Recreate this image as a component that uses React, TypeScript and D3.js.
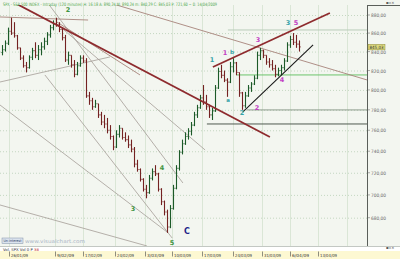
import React from "react";
import * as d3 from "d3";

// 120-minute bars of the S&P 500 index (high / low / close); each bar opens at the previous close
const barHighs = [847, 852, 866, 877, 872, 858, 844, 836, 829, 836, 844, 850, 847, 850, 855, 861, 869, 874, 877, 872, 866, 858, 840, 836, 831, 829, 836, 836, 833, 798, 792, 790, 786, 778, 775, 772, 765, 755, 760, 765, 762, 758, 755, 751, 744, 732, 724, 715, 709, 718, 724, 727, 720, 706, 695, 687, 691, 709, 727, 741, 751, 758, 762, 768, 778, 785, 795, 805, 795, 785, 782, 805, 823, 826, 820, 812, 829, 833, 829, 818, 798, 798, 805, 808, 815, 840, 844, 842, 836, 833, 831, 826, 823, 826, 833, 850, 857, 860, 858, 852];
const barLows = [836, 840, 847, 858, 855, 842, 831, 823, 818, 822, 831, 833, 831, 836, 842, 847, 855, 863, 867, 861, 852, 829, 826, 823, 813, 815, 824, 828, 792, 785, 780, 782, 772, 765, 762, 757, 751, 741, 743, 753, 751, 749, 743, 739, 725, 721, 712, 703, 697, 701, 713, 717, 703, 691, 682, 667, 671, 687, 705, 722, 737, 746, 751, 755, 764, 772, 781, 785, 780, 772, 770, 778, 801, 812, 808, 793, 807, 818, 815, 793, 780, 782, 793, 798, 805, 811, 831, 833, 826, 823, 820, 813, 814, 815, 820, 829, 844, 847, 844, 840];
const barCloses = [842, 849, 862, 860, 857, 844, 833, 825, 823, 834, 841, 836, 842, 845, 851, 858, 866, 870, 869, 864, 855, 831, 836, 826, 816, 825, 833, 830, 794, 789, 783, 786, 775, 768, 766, 760, 754, 744, 756, 762, 753, 751, 746, 742, 728, 723, 714, 705, 702, 715, 721, 719, 705, 694, 685, 672, 688, 706, 724, 739, 747, 754, 759, 765, 775, 782, 792, 788, 783, 775, 779, 802, 819, 815, 810, 808, 824, 828, 818, 797, 784, 794, 802, 806, 812, 836, 841, 836, 829, 826, 822, 816, 820, 823, 830, 847, 853, 850, 848, 845.03];
const firstOpen = 839;
const lastPrice = 845.03;

// price axis
const priceTicks = [880, 860, 840, 820, 800, 780, 760, 740, 720, 700, 680];

// date axis (positions in bar units)
const dateTickPos = [2.33, 17.67, 27, 37.67, 47.67, 56.67, 66.67, 77, 86.67, 96, 105.3];
const dateTickLabels = ["26/01/09", "9/02/09", "17/02/09", "24/02/09", "3/03/09", "10/03/09", "17/03/09", "24/03/09", "31/03/09", "6/04/09", "13/04/09"];
const extraGridPos = [115];

// drawn trend lines: [bar0, price0, bar1, price1]
const maroonLines = [
  [3.67, 894.7, 89.3, 753.5],
  [70.3, 823.7, 109.3, 882.2],
];
const wedgeLine = [80.3, 777.9, 103.7, 847.1];
const brownLines = [
  [-0.67, 877.8, 28.7, 874.4],
  [32.7, 896.9, 121.7, 810.2],
  [18.3, 872.2, 46, 815.4],
];
const greyLines = [
  [-0.67, 808.1, 36, 834.3],
  [15, 894.7, 60.3, 710.7],
  [18.3, 870.0, 67.7, 741.2],
  [14.3, 815.4, 56.7, 662.7],
  [-0.67, 784.8, 55, 667.8],
  [-0.67, 691.1, 48.3, 656.0],
];

// horizontal levels: price, starting bar, colour
const levelPrices = [863.4, 815.4, 779.9, 766.1];
const levelStarts = [75.3, 78.3, 81.7, 68.3];
const levelColors = ["#b9cdb9", "#6cc46c", "#8d9c8d", "#505a50"];

// wave counts
const waveTexts = ["2", "3", "4", "5", "C", "1", "1", "b", "a", "3", "2", "2", "4", "3", "5"];
const waveBars = [22, 43.67, 53.33, 56.67, 61.67, 70, 74.33, 76.67, 75.33, 85.33, 80, 85, 93.33, 95.33, 98];
const wavePrices = [885.2, 687.6, 724.4, 658.5, 667.8, 831.1, 838.5, 839.6, 789.9, 852.5, 776.9, 781.8, 810.2, 871.1, 871.1];
const waveKinds = ["g", "g", "g", "g", "n", "c", "m", "c", "c", "m", "c", "m", "m", "c", "m"];

const titleText = "SPX - S&P 500 INDEX - Intraday (120 minutes)  H: 16:18  A: 890,24  M: 890,24  m: 840,29  C: 845,03  P: 721,60  ~ 0: 14/04/2009";

const W = 400;
const H = 259;
const plotRight = 367;
const plotTop = 5;
const plotBottom = 246;

const fmt = (v: number) => v.toFixed(2).replace(".", ",");

export default function App() {
  const x = d3.scaleLinear().domain([0, barCloses.length - 1]).range([2, 299]);
  const y = d3.scaleLog().domain([680, 880]).range([217.7, 15]);

  const waveColor: Record<string, string> = {
    g: "#3f9440",
    c: "#36a3a8",
    m: "#c23fc4",
    n: "#1c2288",
  };

  const bars = barCloses.map((c, i) => {
    const o = i === 0 ? firstOpen : barCloses[i - 1];
    const xi = Math.round(x(i)) + 0.5;
    return {
      xi,
      hi: y(barHighs[i]),
      lo: y(barLows[i]),
      o: y(o),
      c: y(c),
      up: c >= o,
    };
  });

  const seg = (l: number[]) => ({ x1: x(l[0]), y1: y(l[1]), x2: x(l[2]), y2: y(l[3]) });
  const font = "'DejaVu Sans', 'Liberation Sans', sans-serif";
  const boxY = y(lastPrice) - 2.6;

  return (
    <svg
      width={W}
      height={H}
      viewBox={`0 0 ${W} ${H}`}
      style={{ position: "absolute", left: 0, top: 0, display: "block" }}
      fontFamily={font}
    >
      <defs>
        <clipPath id="plotClip">
          <rect x={0} y={plotTop} width={plotRight} height={plotBottom - plotTop} />
        </clipPath>
      </defs>
      <rect x={0} y={0} width={W} height={H} fill="#f3f6f0" />

      {/* grid */}
      <g clipPath="url(#plotClip)">
        {priceTicks.map((p) => (
          <line key={p} x1={0} x2={plotRight} y1={y(p) + 0.5} y2={y(p) + 0.5} stroke="#b9cfb6" strokeWidth={0.8} strokeDasharray="1,2" />
        ))}
        {dateTickPos.concat(extraGridPos).map((p) => (
          <line key={p} x1={Math.round(x(p)) + 0.5} x2={Math.round(x(p)) + 0.5} y1={plotTop} y2={plotBottom} stroke="#d3e2cf" strokeWidth={0.8} />
        ))}
      </g>

      {/* trend lines and levels */}
      <g clipPath="url(#plotClip)" fill="none">
        {levelPrices.map((p, i) => (
          <line key={i} x1={x(levelStarts[i])} x2={plotRight} y1={y(p)} y2={y(p)} stroke={levelColors[i]} strokeWidth={1} />
        ))}
        {greyLines.map((l, i) => (
          <line key={i} {...seg(l)} stroke="#a59d97" strokeWidth={0.8} />
        ))}
        {brownLines.map((l, i) => (
          <line key={i} {...seg(l)} stroke="#a7837a" strokeWidth={0.9} />
        ))}
      </g>

      {/* OHLC bars */}
      <g clipPath="url(#plotClip)">
        {bars.map((b, i) => {
          const col = b.up ? "#1c5a28" : "#742222";
          return (
            <g key={i} stroke={col} strokeWidth={1.1}>
              <line x1={b.xi} x2={b.xi} y1={b.hi} y2={b.lo} />
              <line x1={b.xi - 1} x2={b.xi} y1={b.o} y2={b.o} />
              <line x1={b.xi} x2={b.xi + 1} y1={b.c} y2={b.c} />
            </g>
          );
        })}
      </g>

      <g clipPath="url(#plotClip)" fill="none">
        {maroonLines.map((l, i) => (
          <line key={i} {...seg(l)} stroke="#8e2b2e" strokeWidth={1.8} />
        ))}
        <line {...seg(wedgeLine)} stroke="#1a1a1a" strokeWidth={1.1} />
      </g>

      {/* wave labels */}
      {waveTexts.map((t, i) => {
        const small = t === "a" || t === "b";
        const big = t === "C";
        return (
          <text
            key={i}
            x={x(waveBars[i])}
            y={y(wavePrices[i])}
            fill={waveColor[waveKinds[i]]}
            fontSize={big ? 8 : small ? 5.5 : 6.5}
            fontWeight="bold"
            textAnchor="middle"
            dominantBaseline="central"
          >
            {t}
          </text>
        );
      })}

      {/* title */}
      <text x={3} y={5.5} fontSize={4.6} fill="#4fa64a" textLength={214} lengthAdjust="spacingAndGlyphs">
        {titleText}
      </text>

      {/* price axis panel */}
      <line x1={plotRight + 0.5} x2={plotRight + 0.5} y1={plotTop} y2={plotBottom} stroke="#5a5f5a" strokeWidth={1} />
      <line x1={plotRight} x2={W} y1={plotTop + 0.5} y2={plotTop + 0.5} stroke="#5a5f5a" strokeWidth={1} />
      {priceTicks.map((p) => (
        <g key={p}>
          <line x1={plotRight + 1} x2={plotRight + 3} y1={y(p)} y2={y(p)} stroke="#777" strokeWidth={0.6} />
          <text x={plotRight + 4} y={y(p) + 0.6} fontSize={4.6} fill="#6a6a6a" dominantBaseline="central" textLength={15} lengthAdjust="spacingAndGlyphs">
            {fmt(p)}
          </text>
        </g>
      ))}
      <rect x={plotRight + 1} y={boxY} width={17} height={5.6} fill="#dcd97c" stroke="#8d8a3c" strokeWidth={0.5} />
      <text x={plotRight + 2.5} y={boxY + 2.9} fontSize={4.4} fill="#333" dominantBaseline="central" textLength={14} lengthAdjust="spacingAndGlyphs">
        {fmt(lastPrice)}
      </text>
      <text x={386} y={3.6} fontSize={3.8} fill="#555">▪▫×</text>

      {/* footer */}
      <rect x={2} y={238} width={21} height={5.5} fill="#dbe3ee" stroke="#7f8fa6" strokeWidth={0.5} />
      <text x={12.5} y={241} fontSize={3.6} fill="#2a3c66" textAnchor="middle" dominantBaseline="central" textLength={18} lengthAdjust="spacingAndGlyphs">
        Un-Interest
      </text>
      <text x={25} y={241.2} fontSize={5.2} fill="#aab4c6" dominantBaseline="central" textLength={60} lengthAdjust="spacingAndGlyphs">
        www.visualchart.com
      </text>
      <rect x={0} y={plotBottom} width={W} height={5} fill="#ffffff" />
      <line x1={0} x2={W} y1={plotBottom + 0.5} y2={plotBottom + 0.5} stroke="#9aa39a" strokeWidth={0.6} />
      <text x={3} y={249} fontSize={3.8} fill="#333" dominantBaseline="central" textLength={36} lengthAdjust="spacingAndGlyphs">
        Vol. SPX Vol 0 P <tspan fill="#c02020">38</tspan>
      </text>
      <text x={386} y={248.8} fontSize={3.8} fill="#555">▪▫×</text>
      <rect x={0} y={251} width={W} height={H - 251} fill="#fdf8d2" />
      {dateTickPos.map((p, i) => {
        const xp = Math.round(x(p)) + 0.5;
        return (
          <g key={i}>
            <line x1={xp} x2={xp} y1={251.5} y2={256.5} stroke="#444" strokeWidth={0.6} />
            <text x={xp + 1.5} y={255.3} fontSize={4.2} fill="#333" dominantBaseline="central" textLength={17} lengthAdjust="spacingAndGlyphs">
              {dateTickLabels[i]}
            </text>
          </g>
        );
      })}
    </svg>
  );
}
